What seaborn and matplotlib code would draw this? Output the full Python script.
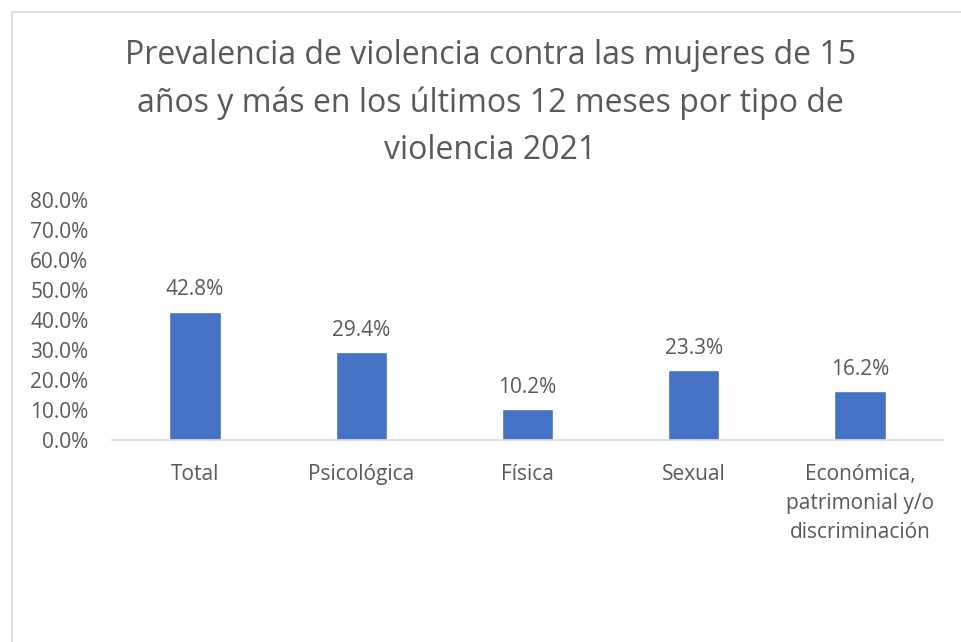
import matplotlib
matplotlib.use("Agg")
import matplotlib.pyplot as plt
import seaborn as sns
import pandas as pd
from matplotlib.lines import Line2D
from matplotlib.ticker import FuncFormatter, MultipleLocator

categories = ["Total", "Psicológica", "Física", "Sexual",
              "Económica,\npatrimonial y/o\ndiscriminación"]
values = [42.8, 29.4, 10.2, 23.3, 16.2]

title = ("Prevalencia de violencia contra las mujeres de 15\n"
         "años y más en los últimos 12 meses por tipo de\n"
         "violencia 2021")

sns.set_style("white")
plt.rcParams['font.family'] = ['Open Sans', 'DejaVu Sans']

text_color = "#595959"
bar_color = "#4472C4"
fs = 15

df = pd.DataFrame({"tipo": categories, "valor": values})

fig = plt.figure(figsize=(9.61, 6.42), dpi=100)
ax = fig.add_axes([112 / 961, 1 - 440 / 642, (943 - 112) / 961, 240 / 642])

sns.barplot(data=df, x="tipo", y="valor", color=bar_color, width=0.31,
            saturation=1, ax=ax)

ax.set_ylim(0, 80)
ax.set_xlim(-0.5, len(categories) - 0.5)
ax.yaxis.set_major_locator(MultipleLocator(10))
ax.yaxis.set_major_formatter(FuncFormatter(lambda v, p: f"{v:.1f}%"))
ax.set_xlabel("")
ax.set_ylabel("")
ax.tick_params(axis="both", length=0, labelsize=fs, colors=text_color)
ax.tick_params(axis="y", pad=17)
ax.tick_params(axis="x", pad=17)
for lbl in ax.get_xticklabels():
    lbl.set_linespacing(1.5)

for s in ["top", "right", "left"]:
    ax.spines[s].set_visible(False)
ax.spines["bottom"].set_color("#d9d9d9")
ax.spines["bottom"].set_linewidth(1.2)

for i, v in enumerate(values):
    ax.annotate(f"{v:.1f}%", (i, v), xytext=(0, 8), textcoords="offset points",
                ha="center", va="bottom", fontsize=fs, color=text_color)

fig.text(490 / 961, 1 - 103 / 642, title, ha="center", va="center",
         fontsize=23, color=text_color, linespacing=1.55)

# chart area border (left and top only visible)
fig.add_artist(Line2D([11.5 / 961, 11.5 / 961], [0, 1 - 11.5 / 642],
                      transform=fig.transFigure, color="#d9d9d9", lw=1.2))
fig.add_artist(Line2D([11.5 / 961, 1], [1 - 11.5 / 642, 1 - 11.5 / 642],
                      transform=fig.transFigure, color="#d9d9d9", lw=1.2))

fig.savefig("out.png", dpi=100)
plt.close(fig)
